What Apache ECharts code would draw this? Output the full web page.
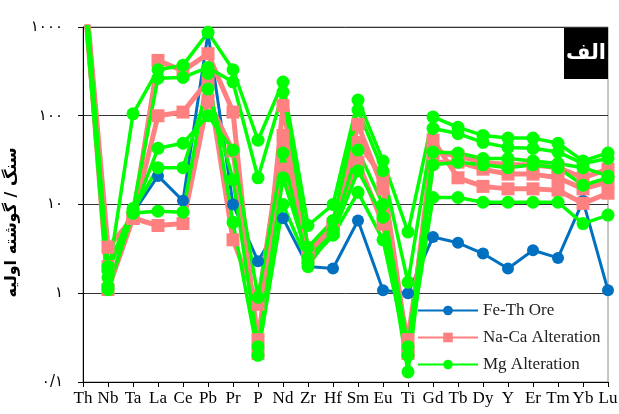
<!DOCTYPE html>
<html>
<head>
<meta charset="utf-8">
<script src="https://cdn.jsdelivr.net/npm/echarts@6/dist/echarts.min.js"></script>
<style>
	body{margin:0;background:#fff;}
	#spider{width:619px;height:414px;}
</style>
</head>
<body>
<div id="spider"></div>
<script>
	var categories = ['Th','Nb','Ta','La','Ce','Pb','Pr','P','Nd','Zr','Hf','Sm','Eu','Ti','Gd','Tb','Dy','Y','Er','Tm','Yb','Lu'];
	var yTickLabels = {'-1':'۰/۱','0':'۱','1':'۱۰','2':'۱۰۰','3':'۱۰۰۰'};
	var yTitle = 'سنگ / گوشته اولیه';
	var panelLabel = 'الف';

	//Fe-Th Ore
	var oreValues = [4000,1.1,8,21,11,850,10,2.3,7,2,1.9,6.6,1.08,1.0,4.3,3.7,2.8,1.9,3.05,2.5,11,1.08];

	//Na-Ca Alteration
	var naCa1 = [5000,3.3,7,420,320,500,110,0.21,130,3,5,80,15,0.21,53,20,16,15,15,14.5,10.3,13.4];
	var naCa2 = [4000,1.1,7,100,110,250,4,0.75,60,2.5,5.5,30,6,0.3,30,30,25,22,22,20,15,18];
	var naCa3 = [3000,2,7,5.8,6.1,150,40,0.3,25,3,6,50,20,0.22,40,35,30,28,28,26,20,25];

	//Mg Alteration
	var mg1 = [6000,1.5,105,330,370,870,330,53,240,5.8,10,150,31,4.9,97,74,60,56,56,49,31,38];
	var mg2 = [5000,2,9,265,270,350,240,20,185,3.3,6.6,116,24,1.33,72,63,50,44,43,39,29,33];
	var mg3 = [4000,1.2,8,43,49,100,41,0.9,38,2,5.1,41,10,0.25,39,38,33,33,31,29,26,21];
	var mg4 = [3500,1.8,8.5,26,26,200,19,0.25,20,2.5,4.7,24,7.2,0.13,28,30,28,26,28,26,16.5,20];
	var mg5 = [3000,1.1,8,8.4,8.2,300,6.3,0.2,10,2.2,4.5,13.7,4,0.2,12,12,10.6,10.6,10.6,10.6,6.1,7.6];

	var blue = '#0070C0', pink = '#FF8080', green = '#00FF00';

	function makeLine(name,data,color,symbol,size,width){
		return {
			name:name,
			type:'line',
			data:data,
			symbol:symbol,
			symbolSize:size,
			clip:true,
			lineStyle:{color:color,width:width},
			itemStyle:{color:color},
			emphasis:{disabled:true},
			animation:false
		};
	}

	var seriesList = [];
	seriesList.push(makeLine('Fe-Th Ore',oreValues,blue,'circle',12,3));
	[naCa1,naCa2,naCa3].forEach(function(d){
		seriesList.push(makeLine('Na-Ca Alteration',d,pink,'rect',13,5));
	});
	[mg1,mg2,mg3,mg4,mg5].forEach(function(d){
		seriesList.push(makeLine('Mg Alteration',d,green,'circle',13,3.5));
	});

	var myChart = echarts.init(document.getElementById('spider'));
	var option = {
		animation:false,
		grid:{left:83,right:11,top:27,bottom:32,show:true,borderColor:'#8c8c8c',borderWidth:1,containLabel:false,outerBoundsMode:'none'},
		legend:{
			data:['Fe-Th Ore','Na-Ca Alteration','Mg Alteration'],
			orient:'vertical',
			left:412,
			top:297,
			itemWidth:60,
			itemHeight:12,
			itemGap:10,
			textStyle:{fontFamily:'Liberation Serif',fontSize:17,color:'#222'}
		},
		xAxis:{
			type:'category',
			data:categories,
			boundaryGap:false,
			axisLine:{lineStyle:{color:'#000',width:1}},
			axisTick:{show:true,length:5,alignWithLabel:true,lineStyle:{color:'#000'}},
			axisLabel:{fontFamily:'Liberation Serif',fontSize:17,color:'#000',margin:8,interval:0},
			splitLine:{show:false}
		},
		yAxis:{
			type:'log',
			logBase:10,
			min:0.1,
			max:1000,
			name:yTitle,
			nameLocation:'middle',
			nameRotate:90,
			nameGap:60,
			nameTextStyle:{fontFamily:'DejaVu Sans',fontSize:16,fontWeight:'bold',color:'#000',padding:[0,36,0,0]},
			axisLine:{show:true,lineStyle:{color:'#000',width:1}},
			axisTick:{show:true,length:5,lineStyle:{color:'#000'}},
			axisLabel:{
				fontFamily:'DejaVu Sans',fontSize:15,color:'#000',margin:20,
				formatter:function(v){
					var k = Math.round(Math.log(v)/Math.LN10);
					return yTickLabels[String(k)] || '';
				}
			},
			splitLine:{show:true,lineStyle:{color:'#333',width:1}}
		},
		graphic:[
			{type:'rect',left:564,top:28,shape:{width:44,height:51},style:{fill:'#000'},z:100},
			{type:'text',x:586,y:54,style:{text:panelLabel,fill:'#fff',font:'bold 21px DejaVu Sans',align:'center',verticalAlign:'middle'},z:101}
		],
		series:seriesList
	};
	myChart.setOption(option);
</script>
</body>
</html>
